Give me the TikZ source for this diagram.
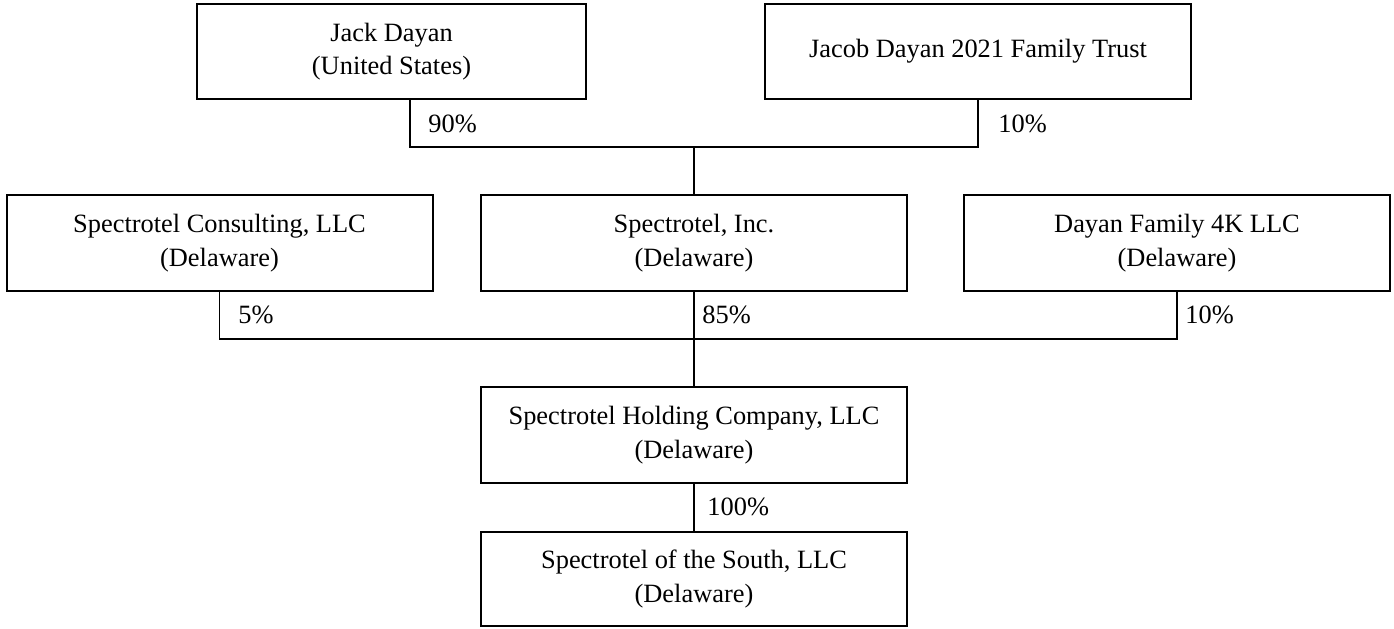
\documentclass[tikz,border=0pt]{standalone}
\usepackage{fontspec}
\setmainfont{Liberation Serif}
\usetikzlibrary{positioning}
\usetikzlibrary{calc}

\begin{document}
\begin{tikzpicture}
[x=0.5pt,y=-0.5pt,
entity/.style={rectangle,draw=black,line width=1pt,inner sep=0pt,minimum width=213pt,minimum height=48pt,align=center,font=\fontsize{13.2}{16.75}\selectfont},
link/.style={black,line width=0.6pt},
pct/.style={anchor=west,inner sep=0pt,font=\fontsize{13.2}{16}\selectfont}]
\useasboundingbox (0,0) rectangle (1394,628);

\node[entity,minimum width=194.5pt,minimum height=47.5pt] (jack) at (391.5,51.5) {Jack Dayan\\(United States)};
\node[entity,minimum height=47.5pt] (trust) at (978,51.5) {Jacob Dayan 2021 Family Trust};

\node[entity] (consult) at (219.5,243) {Spectrotel Consulting, LLC\\(Delaware)};
\node[entity] (inc) at (694,243) {Spectrotel, Inc.\\(Delaware)};
\node[entity] (fam4k) at (1177,243) {Dayan Family 4K LLC\\(Delaware)};

\node[entity] (holding) at (694,435) {Spectrotel Holding Company, LLC\\(Delaware)};
\node[entity,minimum height=47pt] (south) at (694,579) {Spectrotel of the South, LLC\\(Delaware)};

\coordinate (top) at (694,147);
\coordinate (mid) at (694,339);

\draw [link] ([xshift=9.25pt]jack.south) |- (top) -| (trust.south);
\draw [link] (top) -- (inc.north);

\draw [link] (consult.south) |- (mid) -| (fam4k.south);
\draw [link] (inc.south) -- (holding.north);
\draw [link] (holding.south) -- (south.north);

\node[pct] (p90) at (428,124) {90\%};
\node[pct] (p10a) at (998,124) {10\%};
\node[pct] (p5) at (238,315) {5\%};
\node[pct] (p85) at (702,315) {85\%};
\node[pct] (p10b) at (1185,315) {10\%};
\node[pct] (p100) at (707,507) {100\%};
\end{tikzpicture}
\end{document}
